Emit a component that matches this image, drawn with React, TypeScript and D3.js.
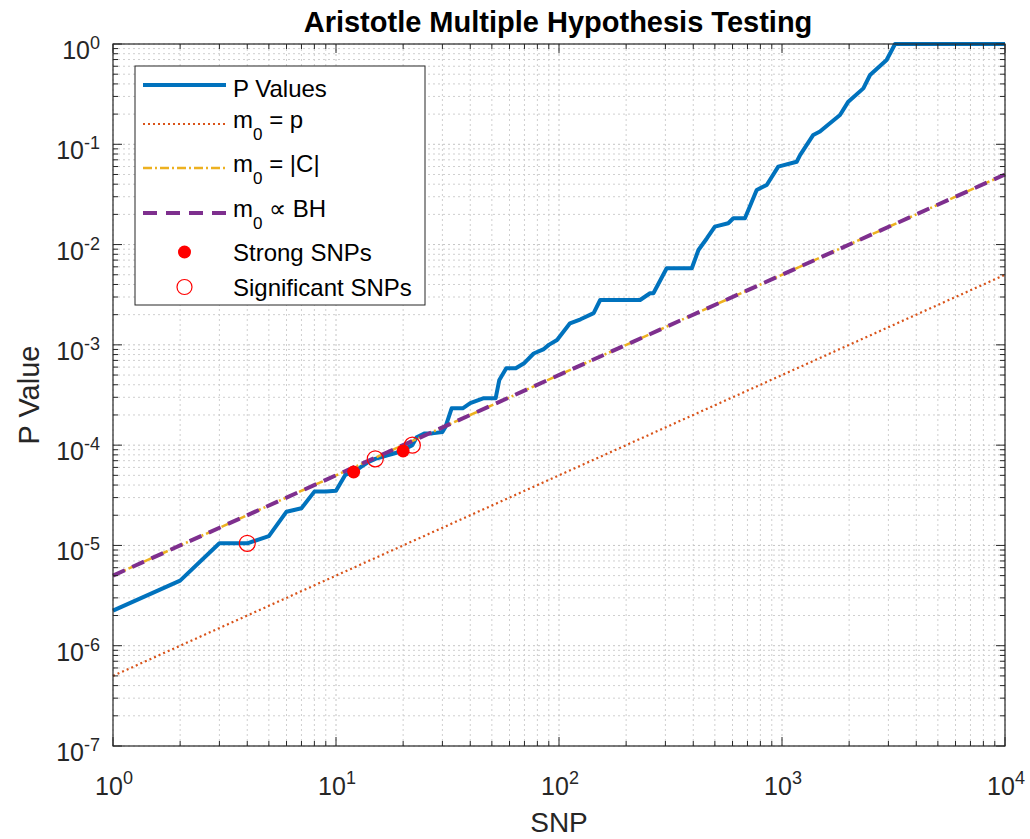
import React from "react";
import * as d3 from "d3";

const pRanks = [1,2,3,4,5,6,7,8,9,10,11,12,13,14,15,16,17,18,19,20,21,22,23,25,27,30,31,33,37,40,46,52,54,58,64,70,77,85,90,98,112,125,143,153,231,256,265,304,394,422,460,500,574,605,682,770,854,962,1164,1205,1381,1480,1600,1820,1983,2316,2482,2945,3213,10000];
const pValues = [2.24e-6,4.46e-6,1.05e-5,1.05e-5,1.24e-5,2.17e-5,2.35e-5,3.44e-5,3.45e-5,3.5e-5,5.05e-5,5.4e-5,6.1e-5,6.8e-5,7.3e-5,7.6e-5,7.9e-5,8.2e-5,8.5e-5,8.75e-5,9.5e-5,1.0e-4,1.2e-4,1.31e-4,1.31e-4,1.35e-4,1.53e-4,2.33e-4,2.33e-4,2.62e-4,2.94e-4,2.94e-4,4.47e-4,5.84e-4,5.84e-4,6.6e-4,8.2e-4,9.0e-4,1.0e-3,1.12e-3,1.64e-3,1.8e-3,2.07e-3,2.8e-3,2.8e-3,3.27e-3,3.27e-3,5.8e-3,5.8e-3,8.83e-3,1.15e-2,1.51e-2,1.63e-2,1.83e-2,1.83e-2,3.5e-2,3.93e-2,5.98e-2,6.7e-2,7.8e-2,0.124,0.134,0.155,0.196,0.266,0.361,0.491,0.692,1,1];

const thresholdRanks = [1, 10000];
const mPThreshold = [5e-7, 5e-3];
const mCThreshold = [5e-6, 5e-2];
const bhThreshold = [5e-6, 5e-2];

const strongRanks = [12, 20];
const strongValues = [5.4e-5, 8.75e-5];
const sigRanks = [4, 15, 22];
const sigValues = [1.05e-5, 7.3e-5, 1.0e-4];

const xTickExps = [0, 1, 2, 3, 4];
const yTickExps = [0, -1, -2, -3, -4, -5, -6, -7];

const W = 1030, H = 839;
const L = 113, R = 1005, T = 44, B = 746;
const FONT = "'Liberation Sans', Arial, Helvetica, sans-serif";
const AX = "#262626";
const BLUE = "#0072BD", ORANGE = "#D95319", YELLOW = "#EDB120", PURPLE = "#7E2F8E", RED = "#FF0000";

export default function App() {
  const x = d3.scaleLog().domain([1, 1e4]).range([L, R]);
  const y = d3.scaleLog().domain([1e-7, 1]).range([B, T]);

  const line = d3.line<[number, number]>().x(d => x(d[0])).y(d => y(d[1]));
  const pLine = line(pRanks.map((r, i) => [r, pValues[i]]))!;
  const mk = (vals: number[]) => line(thresholdRanks.map((r, i) => [r, vals[i]]))!;

  const xMinor: number[] = [];
  for (let e = 0; e < 4; e++) for (let k = 2; k <= 9; k++) xMinor.push(k * Math.pow(10, e));
  const yMinor: number[] = [];
  for (let e = -7; e < 0; e++) for (let k = 2; k <= 9; k++) yMinor.push(k * Math.pow(10, e));
  const xMajor = xTickExps.map(e => Math.pow(10, e));
  const yMajor = yTickExps.map(e => Math.pow(10, e));

  const grid = { stroke: "#cfcfcf", strokeWidth: 1, strokeDasharray: "2 3" };

  const legX = 135, legY = 66, legW = 290, legH = 239;
  const lx0 = 143, lx1 = 226, tx = 233;
  const rows = [85, 124, 168, 213, 252, 287];
  const LF = 24;

  return (
    <svg width={W} height={H} style={{ position: "absolute", left: 0, top: 0, background: "#fff" }} fontFamily={FONT}>
      <rect x={0} y={0} width={W} height={H} fill="#fff" />
      {/* grid */}
      {xMinor.map((v, i) => <line key={"xm" + i} x1={x(v)} x2={x(v)} y1={T} y2={B} {...grid} />)}
      {yMinor.map((v, i) => <line key={"ym" + i} x1={L} x2={R} y1={y(v)} y2={y(v)} {...grid} />)}
      {xMajor.map((v, i) => <line key={"xM" + i} x1={x(v)} x2={x(v)} y1={T} y2={B} stroke="#c4c4c4" strokeWidth={1} strokeDasharray="2 3" />)}
      {yMajor.map((v, i) => <line key={"yM" + i} x1={L} x2={R} y1={y(v)} y2={y(v)} stroke="#c4c4c4" strokeWidth={1} strokeDasharray="2 3" />)}

      {/* data */}
      <path d={pLine} fill="none" stroke={BLUE} strokeWidth={4} strokeLinejoin="round" />
      <path d={mk(mPThreshold)} fill="none" stroke={ORANGE} strokeWidth={2.2} strokeDasharray="2 3" />
      <path d={mk(mCThreshold)} fill="none" stroke={YELLOW} strokeWidth={2.5} strokeDasharray="9 3 2 3" />
      <path d={mk(bhThreshold)} fill="none" stroke={PURPLE} strokeWidth={4} strokeDasharray="13 8" />
      {strongRanks.map((r, i) => <circle key={"s" + i} cx={x(r)} cy={y(strongValues[i])} r={6.5} fill={RED} />)}
      {sigRanks.map((r, i) => <circle key={"g" + i} cx={x(r)} cy={y(sigValues[i])} r={8} fill="none" stroke={RED} strokeWidth={1.2} />)}

      {/* box + ticks */}
      <rect x={L} y={T} width={R - L} height={B - T} fill="none" stroke={AX} strokeWidth={1.2} />
      {xMinor.map((v, i) => (
        <g key={"xt" + i}>
          <line x1={x(v)} x2={x(v)} y1={B} y2={B - 5} stroke={AX} />
          <line x1={x(v)} x2={x(v)} y1={T} y2={T + 5} stroke={AX} />
        </g>
      ))}
      {xMajor.map((v, i) => (
        <g key={"xT" + i}>
          <line x1={x(v)} x2={x(v)} y1={B} y2={B - 9} stroke={AX} />
          <line x1={x(v)} x2={x(v)} y1={T} y2={T + 9} stroke={AX} />
        </g>
      ))}
      {yMinor.map((v, i) => (
        <g key={"yt" + i}>
          <line x1={L} x2={L + 5} y1={y(v)} y2={y(v)} stroke={AX} />
          <line x1={R} x2={R - 5} y1={y(v)} y2={y(v)} stroke={AX} />
        </g>
      ))}
      {yMajor.map((v, i) => (
        <g key={"yT" + i}>
          <line x1={L} x2={L + 9} y1={y(v)} y2={y(v)} stroke={AX} />
          <line x1={R} x2={R - 9} y1={y(v)} y2={y(v)} stroke={AX} />
        </g>
      ))}

      {/* tick labels */}
      {xTickExps.map((e, i) => (
        <text key={"xl" + i} x={x(Math.pow(10, e)) + 1} y={795} textAnchor="middle" fontSize={25} fill={AX}>
          10<tspan fontSize={18} dy={-11}>{String(e)}</tspan>
        </text>
      ))}
      {yTickExps.map((e, i) => (
        <text key={"yl" + i} x={100} y={y(Math.pow(10, e)) + 15} textAnchor="end" fontSize={25} fill={AX}>
          10<tspan fontSize={18} dy={-10}>{e === 0 ? "0" : "-" + String(-e)}</tspan>
        </text>
      ))}

      {/* titles */}
      <text x={558} y={32} textAnchor="middle" fontSize={29} fontWeight="bold" fill="#000">Aristotle Multiple Hypothesis Testing</text>
      <text x={559} y={832} textAnchor="middle" fontSize={28} fill={AX}>SNP</text>
      <text transform={`translate(39, 395) rotate(-90)`} textAnchor="middle" fontSize={29} fill={AX}>P Value</text>

      {/* legend */}
      <rect x={legX} y={legY} width={legW} height={legH} fill="#fff" stroke={AX} strokeWidth={1} />
      <line x1={lx0} x2={lx1} y1={rows[0]} y2={rows[0]} stroke={BLUE} strokeWidth={4} />
      <line x1={lx0} x2={lx1} y1={rows[1]} y2={rows[1]} stroke={ORANGE} strokeWidth={2.2} strokeDasharray="2 3" />
      <line x1={lx0} x2={lx1} y1={rows[2]} y2={rows[2]} stroke={YELLOW} strokeWidth={2.5} strokeDasharray="9 3 2 3" />
      <line x1={lx0} x2={lx1} y1={rows[3]} y2={rows[3]} stroke={PURPLE} strokeWidth={4} strokeDasharray="14 9" />
      <circle cx={(lx0 + lx1) / 2} cy={rows[4]} r={6.5} fill={RED} />
      <circle cx={(lx0 + lx1) / 2} cy={rows[5]} r={7.5} fill="none" stroke={RED} strokeWidth={1.2} />
      <text x={tx} y={rows[0] + 12} fontSize={LF} fill="#000">P Values</text>
      <text x={tx} y={rows[1] + 4} fontSize={LF} fill="#000">m<tspan fontSize={17} dy={12}>0</tspan><tspan dy={-12}> = p</tspan></text>
      <text x={tx} y={rows[2] + 4} fontSize={LF} fill="#000">m<tspan fontSize={17} dy={12}>0</tspan><tspan dy={-12}> = |C|</tspan></text>
      <text x={tx} y={rows[3] + 4} fontSize={LF} fill="#000">m<tspan fontSize={17} dy={12}>0</tspan><tspan dy={-12}> {"\u221D"} BH</tspan></text>
      <text x={tx} y={rows[4] + 9} fontSize={LF} fill="#000">Strong SNPs</text>
      <text x={tx} y={rows[5] + 9} fontSize={LF} fill="#000">Significant SNPs</text>
    </svg>
  );
}
